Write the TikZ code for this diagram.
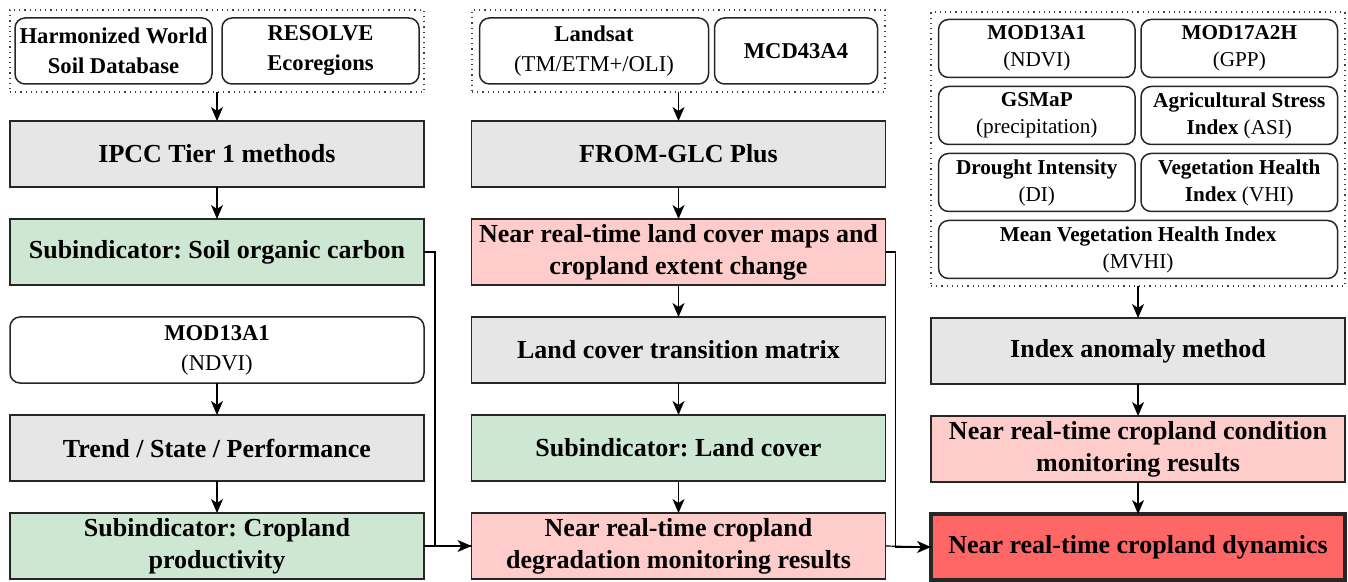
\documentclass[tikz,border=0pt]{standalone}
\usepackage{fontspec}
\setmainfont{Liberation Serif}
\frenchspacing
\usetikzlibrary{arrows.meta, positioning, fit}
\definecolor{boxgray}{RGB}{230,230,230}
\definecolor{subgreen}{RGB}{206,231,211}
\definecolor{respink}{RGB}{255,204,204}
\definecolor{dynred}{RGB}{255,102,102}

\begin{document}
\begin{tikzpicture}[
      src/.style={rectangle, draw=black!85, line width=0.75pt, rounded corners=5pt, align=center, outer sep=0pt,
                  font=\fontsize{11.3}{15}\selectfont, minimum height=33pt, inner sep=1pt},
      srcsm/.style={src, font=\fontsize{10.6}{13.5}\selectfont, minimum height=29pt, minimum width=98.25pt},
      grp/.style={rectangle, draw=black!75, dotted, line width=0.6pt, outer sep=0pt, inner xsep=3.75pt, inner ysep=4pt},
      stage/.style={rectangle, draw=black!85, line width=0.75pt, align=center, outer sep=0pt,
                  font=\fontsize{13}{16}\selectfont\bfseries, minimum width=207pt, minimum height=33pt, inner sep=1pt},
      method/.style={stage, fill=boxgray},
      subind/.style={stage, fill=subgreen},
      result/.style={stage, fill=respink},
      arr/.style={-{Stealth[length=7pt,width=6pt,inset=2pt]}, line width=0.6pt},
      line/.style={line width=0.6pt},
    ]
    \useasboundingbox (0,0) rectangle (674pt,-291pt);

    \node[src, minimum width=98.5pt] (hwsd) at (56.75pt,-25.5pt) {\textbf{Harmonized World}\\\textbf{Soil Database}};
    \node[src, minimum width=98.5pt, right=5pt of hwsd] (resolve) {\textbf{RESOLVE}\\\textbf{Ecoregions}};
    \node[grp, inner xsep=2.5pt, fit=(hwsd)(resolve)] (inleft) {};
    \node[method, below=14.5pt of inleft] (ipcc) {IPCC Tier 1 methods};
    \node[subind, below=16pt of ipcc] (soc) {Subindicator: Soil organic carbon};
    \node[src, minimum width=207pt, below=16pt of soc] (modleft) {\textbf{MOD13A1}\\(NDVI)};
    \node[method, below=16pt of modleft] (trend) {Trend / State / Performance};
    \node[subind, below=16pt of trend] (prod) {Subindicator: Cropland\\productivity};

    \node[src, minimum width=114.5pt] (landsat) at (297pt,-25.5pt) {\textbf{Landsat}\\(TM/ETM+/OLI)};
    \node[src, minimum width=81.5pt, right=3pt of landsat] (mcd) {\textbf{MCD43A4}};
    \node[grp, fit=(landsat)(mcd)] (inmid) {};
    \node[method, below=14.5pt of inmid] (fromglc) {FROM-GLC Plus};
    \node[result, below=16pt of fromglc] (lcmaps) {Near real-time land cover maps and\\cropland extent change};
    \node[method, below=16pt of lcmaps] (transit) {Land cover transition matrix};
    \node[subind, below=16pt of transit] (lcsub) {Subindicator: Land cover};
    \node[result, below=16pt of lcsub] (degr) {Near real-time cropland\\degradation monitoring results};

    \node[srcsm] (mod13) at (518.4pt,-24.25pt) {\textbf{MOD13A1}\\(NDVI)};
    \node[srcsm, right=3pt of mod13] (mod17) {\textbf{MOD17A2H}\\(GPP)};
    \node[srcsm, below=4.5pt of mod13] (gsmap) {\textbf{GSMaP}\\(precipitation)};
    \node[srcsm, below=4.5pt of mod17] (asi) {\textbf{Agricultural Stress}\\\textbf{Index} (ASI)};
    \node[srcsm, below=4.5pt of gsmap] (di) {\textbf{Drought Intensity}\\(DI)};
    \node[srcsm, below=4.5pt of asi] (vhi) {\textbf{Vegetation Health}\\\textbf{Index} (VHI)};
    \node[srcsm, minimum width=199.5pt, below right=4.5pt and 0pt of di.south west] (mvhi) {\textbf{Mean Vegetation Health Index}\\(MVHI)};
    \node[grp, inner ysep=3.75pt, fit=(mod13)(mod17)(mvhi)] (inright) {};
    \node[method, below=16pt of inright] (anomaly) {Index anomaly method};
    \node[result, below=16pt of anomaly] (cond) {Near real-time cropland condition\\monitoring results};
    \node[stage, fill=dynred, line width=1.6pt, below=16pt of cond] (dyn) {Near real-time cropland dynamics};

    \draw[arr] (inleft) -- (ipcc);   \draw[arr] (ipcc) -- (soc);
    \draw[arr] (modleft) -- (trend); \draw[arr] (trend) -- (prod);
    \draw[arr] (inmid) -- (fromglc); \draw[arr] (fromglc) -- (lcmaps);
    \draw[arr] (lcmaps) -- (transit); \draw[arr] (transit) -- (lcsub);
    \draw[arr] (lcsub) -- (degr);
    \draw[arr] (inright) -- (anomaly); \draw[arr] (anomaly) -- (cond);
    \draw[arr] (cond) -- (dyn);
    \draw[arr] (soc.east) -- ++(5.5pt,0) |- (degr.west);
    \draw[line] (prod.east) -- (degr.west);
    \draw[arr] (lcmaps.east) -- ++(5pt,0) |- (dyn.west);
    \draw[line] (degr.east) -- (dyn.west);
  \end{tikzpicture}
\end{document}
